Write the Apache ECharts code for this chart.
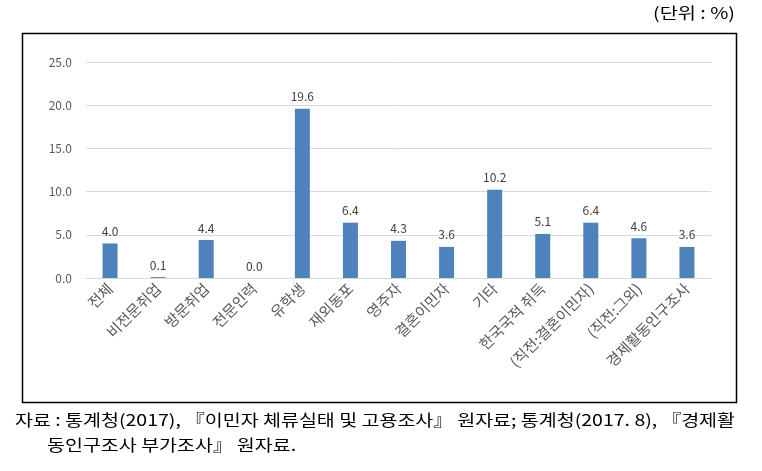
<!DOCTYPE html>
<html><head><meta charset="utf-8">
<script src="https://cdn.jsdelivr.net/npm/echarts@6/dist/echarts.min.js"></script>
<style>html,body{margin:0;padding:0;background:#fff}#c{width:762px;height:471px}</style>
</head><body><div id="c"></div>
<script>
var categories = ['전체','비전문취업','방문취업','전문인력','유학생','재외동포','영주자','결혼이민자','기타','한국국적 취득','(직전:결혼이민자)','(직전:그외)','경제활동인구조사'];
var values = [4.0, 0.1, 4.4, 0.0, 19.6, 6.4, 4.3, 3.6, 10.2, 5.1, 6.4, 4.6, 3.6];
var yTicks = [0, 5, 10, 15, 20, 25];
var unitText = '(단위 : %)';
var sourceLine1 = '자료 : 통계청(2017), 『이민자 체류실태 및 고용조사』 원자료; 통계청(2017. 8), 『경제활';
var sourceLine2 = '동인구조사 부가조사』 원자료.';

var font = '"Noto Sans CJK KR", "Noto Sans", sans-serif';
var footFont = '16px ' + font;
var unitFont = '16px ' + font;
var cv = document.createElement('canvas').getContext('2d');
cv.font = footFont;
var sx = 720 / cv.measureText(sourceLine1).width;
cv.font = unitFont;
var ux = 82 / cv.measureText(unitText).width;

var chart = echarts.init(document.getElementById('c'), null, {renderer: 'canvas'});
chart.setOption({
  animation: false,
  textStyle: {fontFamily: font},
  grid: {left: 86, right: 51, top: 62, bottom: 193},
  xAxis: {
    type: 'category', data: categories,
    axisLine: {lineStyle: {color: '#d9d9d9'}},
    axisTick: {show: false},
    axisLabel: {rotate: 45, interval: 0, color: '#595959', fontSize: 15, fontFamily: font, margin: 8}
  },
  yAxis: {
    type: 'value', min: yTicks[0], max: yTicks[yTicks.length - 1], interval: 5,
    axisLine: {show: false}, axisTick: {show: false},
    splitLine: {lineStyle: {color: '#d9d9d9'}},
    axisLabel: {color: '#595959', fontSize: 12, fontFamily: font, margin: 14,
      formatter: function (v) { return v.toFixed(1); }}
  },
  series: [{
    type: 'bar', data: values, barWidth: 15,
    itemStyle: {color: '#4f81bd'},
    label: {show: true, position: 'top', color: '#404040', fontSize: 12, fontFamily: font, distance: 6,
      formatter: function (p) { return p.value.toFixed(1); }}
  }],
  graphic: [
    {type: 'rect', shape: {x: 22.5, y: 33.5, width: 714, height: 369}, style: {fill: 'none', stroke: '#000', lineWidth: 1.5}, z: 10},
    {type: 'text', x: 653, y: 5, scaleX: ux, style: {text: unitText, font: unitFont, fill: '#000'}},
    {type: 'text', x: 15, y: 412, scaleX: sx, style: {text: sourceLine1, font: footFont, fill: '#000'}},
    {type: 'text', x: 47, y: 437, scaleX: sx, style: {text: sourceLine2, font: footFont, fill: '#000'}}
  ]
});
</script></body></html>
